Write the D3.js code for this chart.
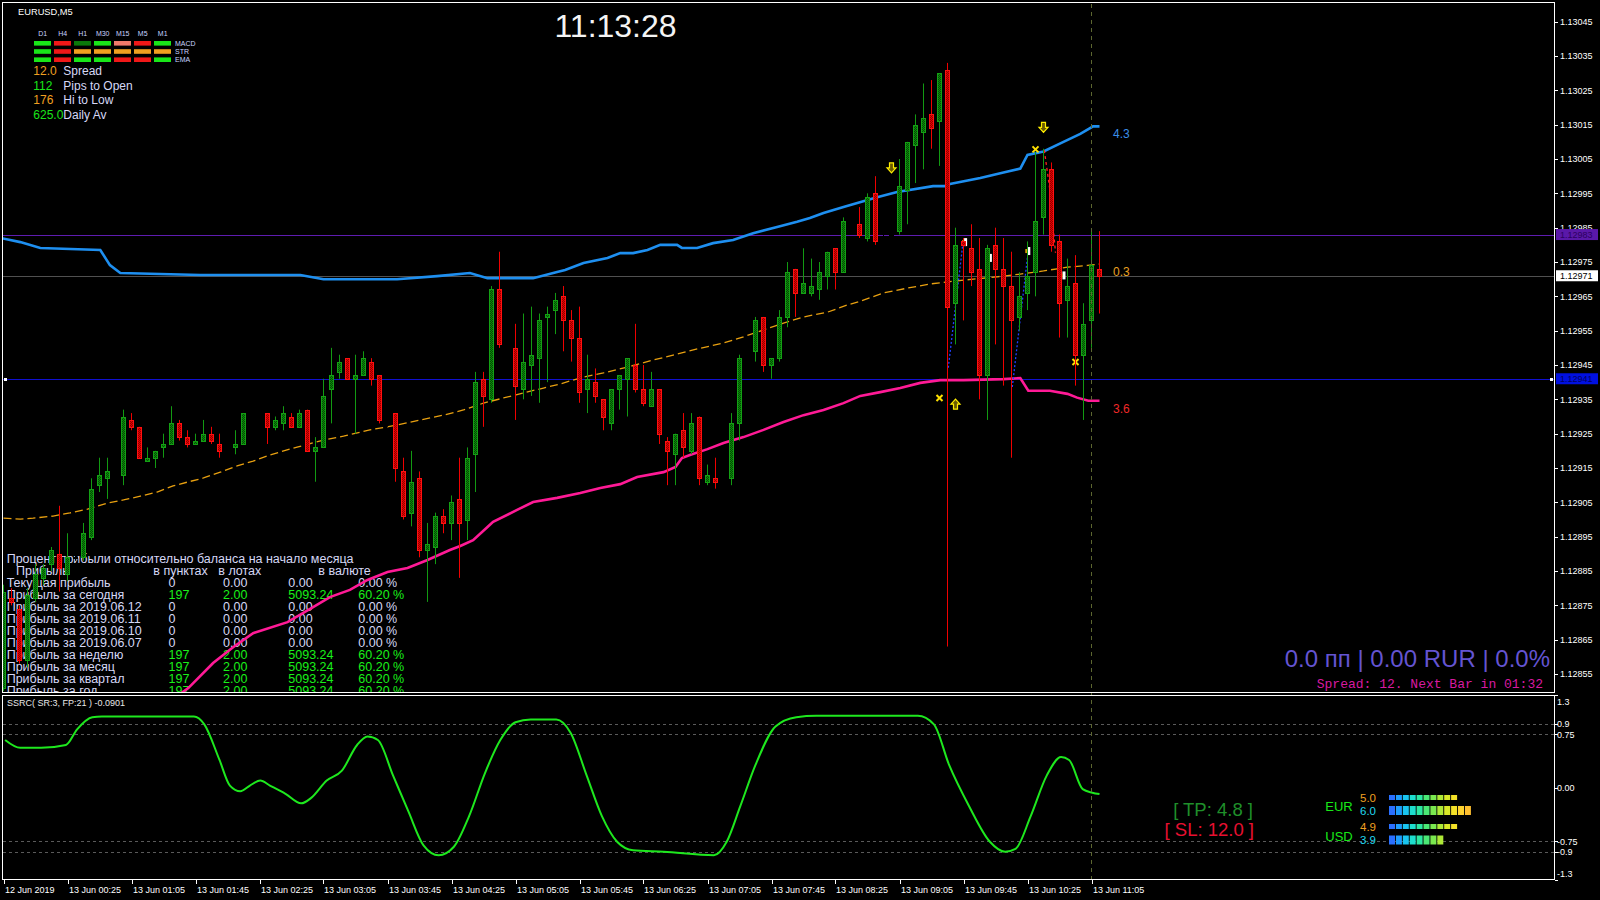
<!DOCTYPE html>
<html><head><meta charset="utf-8">
<script src="https://cdn.jsdelivr.net/npm/d3@7"></script>
<style>html,body{margin:0;padding:0;background:#000;overflow:hidden}</style>
</head><body><svg id="c" width="1600" height="900"></svg>
<script>
// ---------------- DATA ----------------
const symbolLabel = "EURUSD,M5";
const clockText = "11:13:28";
const openP = [
1.12851,1.12877,1.12874,1.12859,1.12877,1.12883,1.12887,1.12890,1.12884,1.12889,
1.12889,1.12895,1.12910,1.12912,1.12914,1.12913,1.12929,1.12927,1.12917,1.12918,
1.12921,1.12922,1.12928,1.12924,1.12922,1.12923,1.12925,1.12922,1.12920,1.12921,
1.12922,1.12931,1.12931,1.12931,1.12927,1.12928,1.12930,1.12927,1.12932,1.12920,
1.12921,1.12938,1.12943,1.12947,1.12941,1.12942,1.12946,1.12942,1.12929,1.12931,
1.12914,1.12902,1.12912,1.12891,1.12892,1.12901,1.12899,1.12906,1.12900,1.12919,
1.12941,1.12935,1.12967,1.12951,1.12950,1.12938,1.12945,1.12947,1.12959,1.12961,
1.12965,1.12958,1.12953,1.12938,1.12940,1.12935,1.12928,1.12938,1.12941,1.12945,
1.12938,1.12933,1.12938,1.12923,1.12919,1.12926,1.12920,1.12930,1.12911,1.12912,
1.12911,1.12912,1.12928,1.12948,1.12949,1.12959,1.12945,1.12947,1.12959,1.12973,
1.12966,1.12966,1.12967,1.12971,1.12979,1.12972,1.12987,1.12986,1.12982,1.12995,
1.12982,1.12983,1.12984,1.12996,1.13009,1.13013,1.13018,1.13016,1.13031,1.12963,
1.12981,1.12979,1.12973,1.12942,1.12980,1.12973,1.12968,1.12959,1.12966,1.12972,
1.12988,1.13002,1.12981,1.12964,1.12969,1.12948,1.12958,1.12973];
const highP = [
1.12881,1.12880,1.12875,1.12880,1.12887,1.12887,1.12892,1.12904,1.12896,1.12891,
1.12899,1.12912,1.12918,1.12918,1.12916,1.12932,1.12931,1.12927,1.12921,1.12920,
1.12925,1.12933,1.12929,1.12926,1.12925,1.12929,1.12927,1.12925,1.12922,1.12926,
1.12931,1.12933,1.12932,1.12931,1.12930,1.12933,1.12931,1.12932,1.12932,1.12924,
1.12941,1.12950,1.12948,1.12947,1.12948,1.12949,1.12947,1.12942,1.12931,1.12931,
1.12918,1.12920,1.12914,1.12899,1.12902,1.12903,1.12907,1.12918,1.12921,1.12943,
1.12943,1.12968,1.12978,1.12953,1.12957,1.12960,1.12962,1.12960,1.12962,1.12966,
1.12968,1.12961,1.12962,1.12948,1.12944,1.12935,1.12938,1.12942,1.12947,1.12957,
1.12945,1.12943,1.12938,1.12924,1.12925,1.12931,1.12931,1.12930,1.12916,1.12918,
1.12913,1.12931,1.12948,1.12950,1.12959,1.12959,1.12947,1.12961,1.12975,1.12973,
1.12979,1.12976,1.12975,1.12978,1.12979,1.12988,1.12989,1.12991,1.12995,1.13000,
1.12984,1.12985,1.13005,1.13010,1.13018,1.13027,1.13028,1.13030,1.13033,1.12985,
1.12982,1.12986,1.12982,1.12980,1.12985,1.12982,1.12978,1.12972,1.12981,1.13007,
1.13008,1.13004,1.12983,1.12976,1.12977,1.12963,1.12984,1.12984];
const lowP = [
1.12850,1.12875,1.12858,1.12857,1.12876,1.12881,1.12885,1.12879,1.12882,1.12888,
1.12888,1.12894,1.12908,1.12906,1.12913,1.12910,1.12926,1.12918,1.12917,1.12915,
1.12918,1.12922,1.12923,1.12921,1.12922,1.12923,1.12922,1.12918,1.12918,1.12919,
1.12922,1.12929,1.12930,1.12922,1.12926,1.12926,1.12927,1.12927,1.12920,1.12911,
1.12921,1.12928,1.12941,1.12941,1.12925,1.12942,1.12939,1.12928,1.12927,1.12911,
1.12900,1.12898,1.12889,1.12876,1.12887,1.12896,1.12894,1.12883,1.12894,1.12908,
1.12927,1.12934,1.12950,1.12949,1.12929,1.12935,1.12936,1.12934,1.12940,1.12954,
1.12949,1.12946,1.12934,1.12931,1.12934,1.12926,1.12926,1.12932,1.12930,1.12937,
1.12933,1.12933,1.12922,1.12910,1.12910,1.12918,1.12919,1.12910,1.12910,1.12909,
1.12909,1.12910,1.12923,1.12946,1.12946,1.12943,1.12941,1.12946,1.12956,1.12959,
1.12966,1.12965,1.12964,1.12967,1.12967,1.12972,1.12985,1.12982,1.12981,1.12980,
1.12980,1.12981,1.12983,1.12986,1.12998,1.13002,1.13008,1.13003,1.12863,1.12951,
1.12958,1.12968,1.12935,1.12929,1.12951,1.12939,1.12918,1.12955,1.12961,1.12965,
1.12983,1.12978,1.12953,1.12953,1.12939,1.12929,1.12950,1.12960];
const closeP = [
1.12879,1.12876,1.12859,1.12878,1.12884,1.12886,1.12891,1.12886,1.12889,1.12889,
1.12896,1.12909,1.12913,1.12914,1.12914,1.12930,1.12927,1.12918,1.12918,1.12920,
1.12922,1.12928,1.12924,1.12922,1.12923,1.12925,1.12923,1.12920,1.12920,1.12922,
1.12931,1.12931,1.12931,1.12927,1.12929,1.12931,1.12927,1.12931,1.12920,1.12921,
1.12936,1.12942,1.12946,1.12941,1.12942,1.12947,1.12941,1.12929,1.12929,1.12915,
1.12901,1.12911,1.12891,1.12893,1.12901,1.12899,1.12905,1.12899,1.12918,1.12940,
1.12936,1.12967,1.12951,1.12951,1.12939,1.12946,1.12948,1.12958,1.12960,1.12964,
1.12958,1.12953,1.12937,1.12941,1.12936,1.12930,1.12938,1.12942,1.12947,1.12938,
1.12934,1.12938,1.12925,1.12920,1.12925,1.12921,1.12928,1.12912,1.12913,1.12911,
1.12911,1.12928,1.12947,1.12948,1.12958,1.12945,1.12947,1.12959,1.12972,1.12966,
1.12969,1.12968,1.12972,1.12978,1.12972,1.12987,1.12987,1.12983,1.12994,1.12981,
1.12982,1.12983,1.12997,1.13010,1.13015,1.13017,1.13014,1.13030,1.12962,1.12980,
1.12980,1.12972,1.12942,1.12979,1.12973,1.12968,1.12958,1.12965,1.12971,1.12987,
1.13002,1.12980,1.12963,1.12968,1.12948,1.12957,1.12974,1.12971];

// indicator lines: [bar index, value]
const upperBand = [[-0.4,1.129820],[2.1,1.129808],[4.6,1.129791],[12.1,1.129785],[13.3,1.129741],[14.6,1.129718],[24.6,1.129712],[37.1,1.129712],[40,1.129700],[49.2,1.129700],[54.2,1.129709],[58.3,1.129718],[60.5,1.129703],[66.2,1.129703],[69.2,1.129721],[70.2,1.129727],[72.5,1.129747],[75.5,1.129762],[77.1,1.129776],[78.7,1.129776],[80.5,1.129785],[82.1,1.129800],[84.2,1.129800],[84.8,1.129791],[86.7,1.129791],[88.7,1.129805],[91.2,1.129814],[93.7,1.129834],[96.7,1.129852],[99.2,1.129867],[100.8,1.129878],[102.5,1.129893],[105,1.129910],[109.2,1.129939],[111.7,1.129954],[116.2,1.129971],[117.7,1.129971],[118.3,1.129977],[122.1,1.129995],[125,1.130011],[127.1,1.130022],[128,1.130062],[130,1.130072],[132.5,1.130100],[134.6,1.130123],[136.2,1.130145],[137,1.130145]];
const lowerBand = [[22.1,1.128492],[23.1,1.128509],[26.2,1.128582],[28.7,1.128628],[31.2,1.128669],[35.5,1.128701],[38.7,1.128745],[40.8,1.128774],[43.3,1.128795],[45.5,1.128824],[48,1.128847],[50.5,1.128859],[53,1.128882],[55.8,1.128911],[57.1,1.128923],[58.7,1.128940],[60.5,1.128978],[61.2,1.128993],[64.2,1.129028],[66.2,1.129051],[69.2,1.129063],[72.1,1.129077],[74.6,1.129092],[77.1,1.129103],[79.2,1.129124],[82.5,1.129138],[84,1.129153],[84.8,1.129179],[85.8,1.129188],[88,1.129205],[90,1.129223],[92.5,1.129240],[95,1.129261],[97.5,1.129284],[100,1.129304],[102.5,1.129319],[105,1.129339],[107.1,1.129360],[109.6,1.129371],[112.1,1.129383],[114.6,1.129398],[117.1,1.129406],[120,1.129406],[125,1.129409],[127.1,1.129412],[128.1,1.129375],[130.8,1.129375],[133,1.129366],[134.2,1.129355],[135.6,1.129346],[137,1.129346]];
const maLine = [[0,1.129004],[2.1,1.129001],[3.7,1.129004],[6.2,1.129010],[8.3,1.129019],[10.5,1.129030],[13,1.129048],[15,1.129057],[17.1,1.129068],[19.2,1.129080],[21.2,1.129098],[23,1.129109],[25,1.129121],[27.1,1.129138],[29.2,1.129156],[31.2,1.129170],[33.3,1.129188],[36.7,1.129211],[40,1.129231],[42.5,1.129243],[45.8,1.129261],[49.2,1.129275],[52.1,1.129290],[55,1.129304],[57.5,1.129319],[60,1.129339],[62.5,1.129354],[65,1.129369],[67.5,1.129383],[69.6,1.129395],[72.5,1.129415],[75,1.129427],[78,1.129444],[80.8,1.129462],[83.7,1.129479],[87.1,1.129499],[90,1.129514],[92.5,1.129532],[94.2,1.129546],[97.5,1.129572],[100,1.129590],[103,1.129604],[105.5,1.129625],[107.1,1.129636],[110,1.129660],[113,1.129674],[115.8,1.129686],[118.3,1.129693],[121.2,1.129700],[124.2,1.129707],[127.1,1.129715],[130,1.129724],[133,1.129735],[135.5,1.129740],[137,1.129744]];
const ssrc = [[0.2,0.67],[2.1,0.56],[4.7,0.56],[7.8,0.60],[9.2,0.82],[11.1,0.99],[12.3,1.0],[23.8,1.0],[25.1,0.89],[27,0.39],[28.3,0.03],[29.6,-0.05],[30.8,0.03],[32.1,0.10],[33.3,0.03],[35.3,-0.09],[37.2,-0.22],[38.5,-0.14],[40.4,0.10],[42.3,0.24],[44.2,0.60],[45.5,0.72],[46.8,0.67],[48.7,0.17],[50.6,-0.33],[52.5,-0.81],[54.4,-0.95],[56.3,-0.83],[58.2,-0.40],[60.2,0.21],[62.1,0.67],[64,0.92],[65.9,0.96],[69.1,0.96],[70.9,0.77],[72.9,0.17],[74.8,-0.40],[76.7,-0.76],[78.7,-0.88],[82.5,-0.90],[88.8,-0.95],[90.4,-0.76],[92.1,-0.26],[94,0.32],[96.5,0.86],[99.1,0.99],[101.6,1.01],[114.3,1.01],[116.3,0.89],[118.2,0.32],[120.7,-0.26],[123.3,-0.76],[125.2,-0.90],[126.5,-0.86],[128.4,-0.40],[130.4,0.17],[132.2,0.43],[133.2,0.39],[134.9,-0.02],[136.1,-0.07],[137,-0.09]];
const ssrcLevels = [0.9, 0.75, -0.75, -0.9];
const ssrcAxisLabels = [["1.3",1.3],["0.9",0.9],["0.75",0.75],["0.00",0],["-0.75",-0.75],["-0.9",-0.9],["-1.3",-1.3]];
const ssrcTitle = "SSRC( SR:3, FP:21 ) -0.0901";

const hLines = [{p:1.12983, c:"#5e1cb0", box:"#5a18a8", txt:"#2c0060"},{p:1.12971, c:"#505050", box:"#ffffff", txt:"#000000"},{p:1.12941, c:"#1010d0", box:"#0010e0", txt:"#000060"}];
const priceTicks = ["1.13045","1.13035","1.13025","1.13015","1.13005","1.12995","1.12985","1.12975","1.12965","1.12955","1.12945","1.12935","1.12925","1.12915","1.12905","1.12895","1.12885","1.12875","1.12865","1.12855"];
const timeTickBars = [0,8,16,24,32,40,48,56,64,72,80,88,96,104,112,120,128,136];
const timeTickLabels = ["12 Jun 2019","13 Jun 00:25","13 Jun 01:05","13 Jun 01:45","13 Jun 02:25","13 Jun 03:05","13 Jun 03:45","13 Jun 04:25","13 Jun 05:05","13 Jun 05:45","13 Jun 06:25","13 Jun 07:05","13 Jun 07:45","13 Jun 08:25","13 Jun 09:05","13 Jun 09:45","13 Jun 10:25","13 Jun 11:05"];
const currentBar = 136;

const arrowsDown = [[111,1.130024],[130,1.130142]];
const arrowsUp = [[119,1.129336]];
const crossMarks = [[117,1.129354],[129,1.130078],[134,1.129459]];
const whiteMarks = [[120.2,1.129808],[123.3,1.129762],[128.1,1.129782],[132.5,1.129711]];
const blueSignals = [[[118.1,1.129442],[119.9,1.129800]],[[126.1,1.129386],[128.0,1.129765]]];
const redSignal = [[130.1,1.130076],[130.8,1.129960],[131.5,1.129777]];
const bandLabels = [{t:"4.3", p:1.130145, c:"#3a8ee8"},{t:"0.3", p:1.129744, c:"#e8a020"},{t:"3.6", p:1.129346, c:"#f02828"}];

const tfNames = ["D1","H4","H1","M30","M15","M5","M1"];
const sigRows = ["MACD","STR","EMA"];
const sigColors = [
 ["#19e619","#f01818","#0a7a0a","#19e619","#f07a6a","#f01818","#19e619"],
 ["#19e619","#f01818","#f0a020","#f0a020","#f0a020","#f0a020","#f0a020"],
 ["#19e619","#f01818","#19e619","#19e619","#f01818","#f01818","#19e619"]];
const infoValues = ["12.0","112","176","625.0"];
const infoNames = ["Spread","Pips to Open","Hi to Low","Daily Av"];
const infoColors = ["#f0a020","#19e619","#f0a020","#19e619"];

const tableTitle = "Процент прибыли относительно баланса на начало месяца";
const tableHeader = ["Прибыль","в пунктах","в лотах","в валюте"];
const tableRows = ["Текущая прибыль","Прибыль за сегодня","Прибыль за 2019.06.12","Прибыль за 2019.06.11","Прибыль за 2019.06.10","Прибыль за 2019.06.07","Прибыль за неделю","Прибыль за месяц","Прибыль за квартал","Прибыль за год"];
const tablePips = [0,197,0,0,0,0,197,197,197,197];
const tableLots = ["0.00","2.00","0.00","0.00","0.00","0.00","2.00","2.00","2.00","2.00"];
const tableMoney = ["0.00","5093.24","0.00","0.00","0.00","0.00","5093.24","5093.24","5093.24","5093.24"];
const tablePct = ["0.00 %","60.20 %","0.00 %","0.00 %","0.00 %","0.00 %","60.20 %","60.20 %","60.20 %","60.20 %"];

const profitLine = "0.0 пп | 0.00 RUR | 0.0%";
const spreadLine = "Spread: 12. Next Bar in 01:32";
const tpText = "[ TP: 4.8 ]";
const slText = "[ SL: 12.0 ]";
const currencies = ["EUR","USD"];
const strengthA = [5.0, 4.9];
const strengthB = [6.0, 3.9];

// ---------------- DRAW ----------------
const F = "'Liberation Sans', Arial, sans-serif";
const svg = d3.select("#c");
svg.append("rect").attr("width",1600).attr("height",900).attr("fill","#000");
const defs = svg.append("defs");
defs.append("clipPath").attr("id","mainClip").append("rect").attr("x",3).attr("y",3).attr("width",1551).attr("height",690);
defs.append("clipPath").attr("id","indClip").append("rect").attr("x",3).attr("y",696).attr("width",1551).attr("height",183);
function pattern(id,a,b){
  const p = defs.append("pattern").attr("id",id).attr("patternUnits","userSpaceOnUse").attr("width",2).attr("height",2);
  p.append("rect").attr("width",2).attr("height",2).attr("fill",a);
  p.append("rect").attr("x",1).attr("y",0).attr("width",1).attr("height",1).attr("fill",b);
  p.append("rect").attr("x",0).attr("y",1).attr("width",1).attr("height",1).attr("fill",b);
}
pattern("bullFill","#0c8c0c","#044a04");
pattern("bearFill","#e80000","#900000");

const x = d3.scaleLinear().domain([0,137]).range([3.5,1099.5]);
const y = d3.scaleLinear().domain([1.12855,1.13045]).range([674.0,21.7]);
const yi = d3.scaleLinear().domain([-1.3,1.3]).range([880.2,695.2]);

const main = svg.append("g").attr("clip-path","url(#mainClip)");
const ind = svg.append("g").attr("clip-path","url(#indClip)");

// horizontal lines
hLines.forEach(h=>{
  main.append("line").attr("x1",3).attr("x2",1554).attr("y1",Math.round(y(h.p))+0.5).attr("y2",Math.round(y(h.p))+0.5)
    .attr("stroke",h.c).attr("stroke-width",1);
});
const blueY = Math.round(y(1.12941))+0.5;
main.append("rect").attr("x",4).attr("y",blueY-1.5).attr("width",3).attr("height",3).attr("fill","#fff");
main.append("rect").attr("x",1550).attr("y",blueY-1.5).attr("width",3).attr("height",3).attr("fill","#fff");

// vertical dashed current bar line
svg.append("line").attr("x1",x(currentBar)).attr("x2",x(currentBar)).attr("y1",4).attr("y2",879)
  .attr("stroke","#5c6630").attr("stroke-dasharray","4,4");

// table text (drawn under candles)
const tbl = main.append("g").attr("font-family",F).attr("font-size",12.5);
tbl.append("text").attr("x",6.7).attr("y",562.8).attr("fill","#d6d8f6").text(tableTitle);
const hx = [16,153.3,218.3,318.3];
tableHeader.forEach((t,i)=>tbl.append("text").attr("x",hx[i]).attr("y",575.2).attr("fill","#d6d8f6").text(t));
tableRows.forEach((t,i)=>{
  const yy = 587.2 + 12*i;
  const c = tablePips[i] > 0 ? "#19f019" : "#d6d8f6";
  tbl.append("text").attr("x",6.7).attr("y",yy).attr("fill","#d6d8f6").text(t);
  tbl.append("text").attr("x",168.5).attr("y",yy).attr("fill",c).text(tablePips[i]);
  tbl.append("text").attr("x",223).attr("y",yy).attr("fill",c).text(tableLots[i]);
  tbl.append("text").attr("x",288.3).attr("y",yy).attr("fill",c).text(tableMoney[i]);
  tbl.append("text").attr("x",358.3).attr("y",yy).attr("fill",c).text(tablePct[i]);
});

// indicator lines
const line = d3.line().x(d=>x(d[0])).y(d=>y(d[1]));
main.append("path").attr("d",line(upperBand)).attr("fill","none").attr("stroke","#1e8ff0").attr("stroke-width",2.6);
main.append("path").attr("d",line(lowerBand)).attr("fill","none").attr("stroke","#ff1a96").attr("stroke-width",2.6);
main.append("path").attr("d",line(maLine)).attr("fill","none").attr("stroke","#e8a010").attr("stroke-width",1.3).attr("stroke-dasharray","8,4");
blueSignals.forEach(s=>main.append("path").attr("d",line(s)).attr("fill","none").attr("stroke","#2040ff").attr("stroke-width",1.3).attr("stroke-dasharray","2,2"));
main.append("path").attr("d",line(redSignal)).attr("fill","none").attr("stroke","#ff2020").attr("stroke-width",1.3).attr("stroke-dasharray","3,3");

// markers
arrowsDown.forEach(a=>{
  const cx = x(a[0]), cy = y(a[1]);
  main.append("path").attr("transform",`translate(${cx},${cy})`).attr("d","M-2,-5H2V0H4.5L0,5L-4.5,0H-2Z")
    .attr("fill","#6a5a00").attr("stroke","#ffee00").attr("stroke-width",1.2);
});
arrowsUp.forEach(a=>{
  const cx = x(a[0]), cy = y(a[1]);
  main.append("path").attr("transform",`translate(${cx},${cy})`).attr("d","M-2,5H2V0H4.5L0,-5L-4.5,0H-2Z")
    .attr("fill","#6a5a00").attr("stroke","#ffee00").attr("stroke-width",1.2);
});
crossMarks.forEach(a=>{
  const cx = x(a[0]), cy = y(a[1]);
  main.append("path").attr("transform",`translate(${cx},${cy})`).attr("d","M-3,-3L3,3M3,-3L-3,3")
    .attr("stroke","#ffe000").attr("stroke-width",2);
});
whiteMarks.forEach(a=>{
  const cx = x(a[0]), cy = y(a[1]);
  main.append("rect").attr("x",cx-1).attr("y",cy-4).attr("width",3).attr("height",8).attr("fill","#ffffff");
  main.append("rect").attr("x",cx-3).attr("y",cy-2).attr("width",2).attr("height",4).attr("fill","#e0a000");
});

// candles
const candles = main.append("g");
openP.forEach((o,i)=>{
  const c = closeP[i], h = highP[i], l = lowP[i];
  const cx = x(i);
  let wick, fill, stroke;
  if (c > o) { wick = "#129a12"; fill = "url(#bullFill)"; stroke = "#14a014"; }
  else if (c < o) { wick = "#f00000"; fill = "url(#bearFill)"; stroke = "#ff1010"; }
  else { wick = "#000000"; fill = "#000000"; stroke = "#000000"; }
  candles.append("line").attr("x1",cx).attr("x2",cx).attr("y1",y(h)).attr("y2",y(l)).attr("stroke",wick).attr("stroke-width",1);
  const top = Math.round(y(Math.max(o,c))), bot = Math.round(y(Math.min(o,c)));
  candles.append("rect").attr("x",cx-2).attr("y",top+0.5).attr("width",4).attr("height",Math.max(1,bot-top))
    .attr("fill",fill).attr("stroke",stroke).attr("stroke-width",1);
});

// band labels
bandLabels.forEach(b=>{
  svg.append("text").attr("x",1113).attr("y",y(b.p)+12).attr("font-family",F).attr("font-size",12).attr("fill",b.c).text(b.t);
});

// frames
svg.append("rect").attr("x",2.5).attr("y",2.5).attr("width",1552).attr("height",690).attr("fill","none").attr("stroke","#fff");
svg.append("rect").attr("x",2.5).attr("y",695.5).attr("width",1552).attr("height",184).attr("fill","none").attr("stroke","#fff");

// price axis
const ax = svg.append("g").attr("font-family",F).attr("font-size",9).attr("fill","#fff");
priceTicks.forEach(t=>{
  const yy = y(+t);
  ax.append("line").attr("x1",1555).attr("x2",1558).attr("y1",Math.round(yy)+0.5).attr("y2",Math.round(yy)+0.5).attr("stroke","#fff");
  ax.append("text").attr("x",1560).attr("y",yy+3.3).text(t);
});
hLines.forEach(h=>{
  const yy = y(h.p);
  ax.append("rect").attr("x",1556).attr("y",yy-5.5).attr("width",42).attr("height",11).attr("fill",h.box);
  ax.append("text").attr("x",1560).attr("y",yy+3.3).attr("fill",h.txt).text(h.p.toFixed(5));
});

// top-left info panel
const tl = svg.append("g").attr("font-family",F);
tl.append("text").attr("x",18).attr("y",15).attr("font-size",9.3).attr("fill","#fff").text(symbolLabel);
tfNames.forEach((t,i)=>tl.append("text").attr("x",42.7+20*i).attr("y",35.5).attr("text-anchor","middle").attr("font-size",7).attr("fill","#c8d4ff").text(t));
sigColors.forEach((row,r)=>row.forEach((c,i)=>{
  tl.append("rect").attr("x",34+20*i).attr("y",41+8.2*r).attr("width",17).attr("height",4.6).attr("fill",c);
}));
sigRows.forEach((t,r)=>tl.append("text").attr("x",175).attr("y",45.8+8.2*r).attr("font-size",7).attr("fill","#c8d4ff").text(t));
infoValues.forEach((v,i)=>{
  const yy = 75 + 14.7*i;
  tl.append("text").attr("x",33.3).attr("y",yy).attr("font-size",12).attr("fill",infoColors[i]).text(v);
  tl.append("text").attr("x",63.3).attr("y",yy).attr("font-size",12).attr("fill","#d6d8f6").text(infoNames[i]);
});
// clock
svg.append("text").attr("x",615.5).attr("y",37).attr("text-anchor","middle").attr("font-family",F).attr("font-size",32).attr("fill","#f4f4f4").text(clockText);

// bottom right profit texts
svg.append("text").attr("x",1550).attr("y",666.5).attr("text-anchor","end").attr("font-family",F).attr("font-size",24).attr("fill","#6454d2").text(profitLine);
svg.append("text").attr("x",1543).attr("y",687.5).attr("text-anchor","end").attr("font-family","'Liberation Mono','Courier New',monospace").attr("font-size",13).attr("fill","#d81aa0").text(spreadLine);

// indicator panel
ssrcLevels.forEach(v=>{
  ind.append("line").attr("x1",3).attr("x2",1554).attr("y1",Math.round(yi(v))+0.5).attr("y2",Math.round(yi(v))+0.5)
    .attr("stroke","#5a5a5a").attr("stroke-dasharray","3,3");
});
const sline = d3.line().x(d=>x(d[0])).y(d=>yi(d[1])).curve(d3.curveMonotoneX);
ind.append("path").attr("d",sline(ssrc)).attr("fill","none").attr("stroke","#1ee81e").attr("stroke-width",2);
svg.append("text").attr("x",7).attr("y",706).attr("font-family",F).attr("font-size",9).attr("fill","#e8e8e8").text(ssrcTitle);
ssrcAxisLabels.forEach(([t,v])=>{
  let yy = yi(v);
  if (v >= 1.3) yy += 6.5;
  if (v <= -1.3) yy -= 7;
  svg.append("line").attr("x1",1555).attr("x2",1558).attr("y1",Math.round(yi(v))+0.5).attr("y2",Math.round(yi(v))+0.5).attr("stroke","#fff");
  svg.append("text").attr("x",1557).attr("y",yy+3.5).attr("font-family",F).attr("font-size",9).attr("fill","#fff").text(t);
});

// TP / SL
svg.append("text").attr("x",1253).attr("y",816).attr("text-anchor","end").attr("font-family",F).attr("font-size",18.5).attr("fill","#1f8f2a").text(tpText);
svg.append("text").attr("x",1254).attr("y",836).attr("text-anchor","end").attr("font-family",F).attr("font-size",18.5).attr("fill","#e81030").text(slText);

// currency strength
const grad = d3.interpolateRgbBasis(["#2a70ff","#1aa8ff","#18d8e8","#22e8b0","#40e878","#80e848","#c0e830","#f0e820","#ffd830","#ffc030"]);
const rowY = [[797.5,810.5],[826.5,840]];
const curLabelY = [810.5, 840.5];
currencies.forEach((cur,ci)=>{
  const [ya,yb] = rowY[ci];
  svg.append("text").attr("x",1339).attr("y",curLabelY[ci]).attr("text-anchor","middle").attr("font-family",F).attr("font-size",13).attr("fill","#18e818").text(cur);
  svg.append("text").attr("x",1360).attr("y",ya+4).attr("font-family",F).attr("font-size",11.5).attr("fill","#f0a020").text(strengthA[ci].toFixed(1));
  svg.append("text").attr("x",1360).attr("y",yb+4).attr("font-family",F).attr("font-size",11.5).attr("fill","#20d8f0").text(strengthB[ci].toFixed(1));
  const na = Math.round(strengthA[ci]*2), nb = Math.round(strengthB[ci]*2);
  for (let i=0;i<na;i++) svg.append("rect").attr("x",1389+6.9*i).attr("y",ya-2.5).attr("width",6).attr("height",5).attr("fill",grad(i/11));
  for (let i=0;i<nb;i++) svg.append("rect").attr("x",1389+6.9*i).attr("y",yb-4.5).attr("width",6).attr("height",9).attr("fill",grad(i/11));
});

// time axis
timeTickBars.forEach((b,i)=>{
  const xx = Math.round(x(b))+0.5;
  svg.append("line").attr("x1",xx).attr("x2",xx).attr("y1",880).attr("y2",884).attr("stroke","#fff");
  svg.append("text").attr("x",xx+0.5).attr("y",892.5).attr("font-family",F).attr("font-size",9).attr("fill","#fff").text(timeTickLabels[i]);
});
</script></body></html>
